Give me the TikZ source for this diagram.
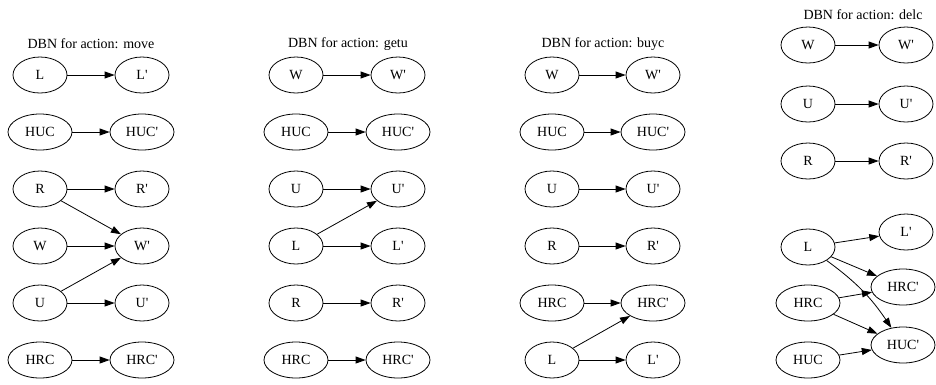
\documentclass[tikz,border=0pt]{standalone}
\usepackage{fontspec}
\setmainfont{Liberation Serif}
\usetikzlibrary{shapes.geometric,arrows.meta}
\newcommand{\nxt}{\textquotesingle}
\tikzset{
  var/.style={ellipse, draw, line width=0.8pt, minimum width=54pt, minimum height=36pt, inner sep=0pt},
  widevar/.style={var, minimum width=64pt},
  ttl/.style={inner sep=0pt},
  dep/.style={-{Triangle[length=10pt,width=7pt]}, line width=0.8pt}
}
\begin{document}
\begin{tikzpicture}[x=1pt,y=-1pt,font=\fontsize{14}{16}\selectfont]
  \useasboundingbox (0,0) rectangle (936,384);
  % move
  \draw
    (91,44) node[ttl] (mt){DBN for action: move}
    (40,75) node[var] (mL){L}
    (142,75) node[var] (mLp){L\nxt}
    (40,132) node[widevar] (mHUC){HUC}
    (142,132) node[widevar] (mHUCp){HUC\nxt}
    (40,189) node[var] (mR){R}
    (142,189) node[var] (mRp){R\nxt}
    (40,246) node[var] (mW){W}
    (142,246) node[var] (mWp){W\nxt}
    (40,303) node[var] (mU){U}
    (142,303) node[var] (mUp){U\nxt}
    (40,360) node[widevar] (mHRC){HRC}
    (142,360) node[widevar] (mHRCp){HRC\nxt};
  % getu
  \draw
    (348,44) node[ttl] (gt){DBN for action: getu}
    (296,75) node[var] (gW){W}
    (398,75) node[var] (gWp){W\nxt}
    (296,132) node[widevar] (gHUC){HUC}
    (398,132) node[widevar] (gHUCp){HUC\nxt}
    (296,189) node[var] (gU){U}
    (398,189) node[var] (gUp){U\nxt}
    (296,246) node[var] (gL){L}
    (398,246) node[var] (gLp){L\nxt}
    (296,303) node[var] (gR){R}
    (398,303) node[var] (gRp){R\nxt}
    (296,360) node[widevar] (gHRC){HRC}
    (398,360) node[widevar] (gHRCp){HRC\nxt};
  % buyc
  \draw
    (603,44) node[ttl] (bt){DBN for action: buyc}
    (552,75) node[var] (bW){W}
    (653,75) node[var] (bWp){W\nxt}
    (552,132) node[widevar] (bHUC){HUC}
    (653,132) node[widevar] (bHUCp){HUC\nxt}
    (552,189) node[var] (bU){U}
    (653,189) node[var] (bUp){U\nxt}
    (552,246) node[var] (bR){R}
    (653,246) node[var] (bRp){R\nxt}
    (552,303) node[widevar] (bHRC){HRC}
    (653,303) node[widevar] (bHRCp){HRC\nxt}
    (552,360) node[var] (bL){L}
    (653,360) node[var] (bLp){L\nxt};
  % delc
  \draw
    (863,15) node[ttl] (dt){DBN for action: delc}
    (808,45) node[var] (dW){W}
    (906,45) node[var] (dWp){W\nxt}
    (808,104) node[var] (dU){U}
    (906,104) node[var] (dUp){U\nxt}
    (808,161) node[var] (dR){R}
    (906,161) node[var] (dRp){R\nxt}
    (808,247) node[var] (dL){L}
    (906,232) node[var] (dLp){L\nxt}
    (808,303) node[widevar] (dHRC){HRC}
    (903,287) node[widevar] (dHRCp){HRC\nxt}
    (808,360) node[widevar] (dHUC){HUC}
    (903,345) node[widevar] (dHUCp){HUC\nxt};
  \begin{scope}[dep]
    \draw (mL) to (mLp);
    \draw (mHUC) to (mHUCp);
    \draw (mR) to (mRp);
    \draw (mR) to (mWp);
    \draw (mW) to (mWp);
    \draw (mU) to (mWp);
    \draw (mU) to (mUp);
    \draw (mHRC) to (mHRCp);
    \draw (gW) to (gWp);
    \draw (gHUC) to (gHUCp);
    \draw (gU) to (gUp);
    \draw (gL) to (gUp);
    \draw (gL) to (gLp);
    \draw (gR) to (gRp);
    \draw (gHRC) to (gHRCp);
    \draw (bW) to (bWp);
    \draw (bHUC) to (bHUCp);
    \draw (bU) to (bUp);
    \draw (bR) to (bRp);
    \draw (bHRC) to (bHRCp);
    \draw (bL) to (bHRCp);
    \draw (bL) to (bLp);
    \draw (dW) to (dWp);
    \draw (dU) to (dUp);
    \draw (dR) to (dRp);
    \draw (dL) to (dLp);
    \draw (dL) to (dHRCp);
    \draw (dL) to[bend left=10] (dHUCp);
    \draw (dHRC) to (dHRCp);
    \draw (dHRC) to (dHUCp);
    \draw (dHUC) to (dHUCp);
  \end{scope}
\end{tikzpicture}
\end{document}
